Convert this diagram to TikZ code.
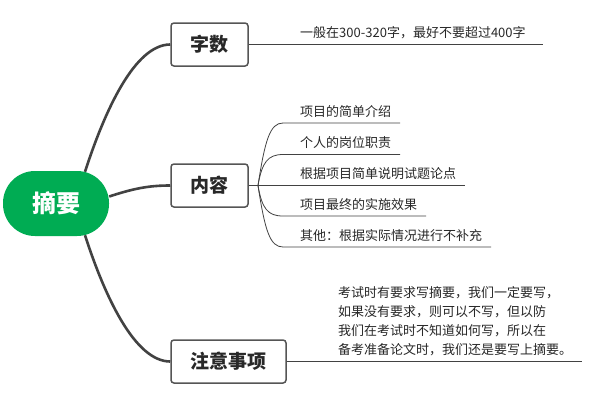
\documentclass[tikz,border=0pt]{standalone}
\usepackage{fontspec}
\setmainfont{Noto Sans CJK SC}
\usetikzlibrary{calc}
\definecolor{rootgreen}{RGB}{0,172,83}
\definecolor{linegray}{RGB}{66,66,66}
\definecolor{boxgray}{RGB}{85,85,85}
\definecolor{txt}{RGB}{40,40,40}
\begin{document}
\begin{tikzpicture}[x=1pt,y=-1pt,
  rootnode/.style={fill=rootgreen, rounded corners=32pt, minimum width=106pt, minimum height=65pt, text=white, font=\fontsize{24}{28}\selectfont\bfseries, inner sep=0pt},
  topic/.style={draw=boxgray, line width=1.5pt, rounded corners=3pt, fill=white, minimum height=43pt, text=txt, font=\fontsize{19}{22}\selectfont\bfseries, inner sep=0pt},
  mainline/.style={draw=linegray, line width=2.6pt},
  subline/.style={draw=linegray, line width=0.8pt},
  leaf/.style={anchor=west, inner sep=0pt, text=txt, font=\fontsize{13}{19}\selectfont}]
\fill[white] (0,0) rectangle (589,400);
\useasboundingbox (0,0) rectangle (589,400);
% main nodes
\node[rootnode] (root) at (56,203.5) {摘要};
\node[topic, minimum width=77pt] (zs) at (209.5,44.5) {字数};
\node[topic, minimum width=77pt] (nr) at (209.5,185.5) {内容};
\node[topic, minimum width=115pt] (zy) at (228.5,361.5) {注意事项};
% main connectors
\draw[mainline] ($(root.north)+(29,1)$) .. controls (105,110) and (135,44.5) .. (zs.west);
\draw[mainline] ($(root.east)+(0,-7)$) .. controls (135,188) and (150,185.5) .. (nr.west);
\draw[mainline] ($(root.south)+(29,-1)$) .. controls (105,297) and (135,361.5) .. (zy.west);
% 字数
\coordinate (zsend) at (543,44.5);
\draw[subline] (zs.east) -- (zsend);
\node[leaf] (zst) at (300,33) {一般在300-320字，最好不要超过400字};
% 内容
\coordinate (hub) at (258,185.5);
\coordinate (e1) at (400,123);
\coordinate (e2) at (400,154.5);
\coordinate (e3) at (465,185.5);
\coordinate (e4) at (426,216);
\coordinate (e5) at (491,247);
\draw[subline] (nr.east) -- (hub);
\draw[subline] (hub) .. controls (265,140) and (270,123) .. (283,123) -- (e1);
\draw[subline] (hub) .. controls (262,162) and (268,154.5) .. (283,154.5) -- (e2);
\draw[subline] (hub) -- (e3);
\draw[subline] (hub) .. controls (262,209) and (268,216) .. (283,216) -- (e4);
\draw[subline] (hub) .. controls (265,231) and (270,247) .. (283,247) -- (e5);
\node[leaf] (n1) at (300,112) {项目的简单介绍};
\node[leaf] (n2) at (300,143) {个人的岗位职责};
\node[leaf] (n3) at (300,174) {根据项目简单说明试题论点};
\node[leaf] (n4) at (300,205) {项目最终的实施效果};
\node[leaf] (n5) at (300,236) {其他：根据实际情况进行不补充};
% 注意事项
\coordinate (zyend) at (582,361.5);
\draw[subline] (zy.east) -- (zyend);
\node[leaf, align=left] (zyt) at (338,321.5) {考试时有要求写摘要，我们一定要写，\\如果没有要求，则可以不写，但以防\\我们在考试时不知道如何写，所以在\\备考准备论文时，我们还是要写上摘要。};
\end{tikzpicture}
\end{document}
